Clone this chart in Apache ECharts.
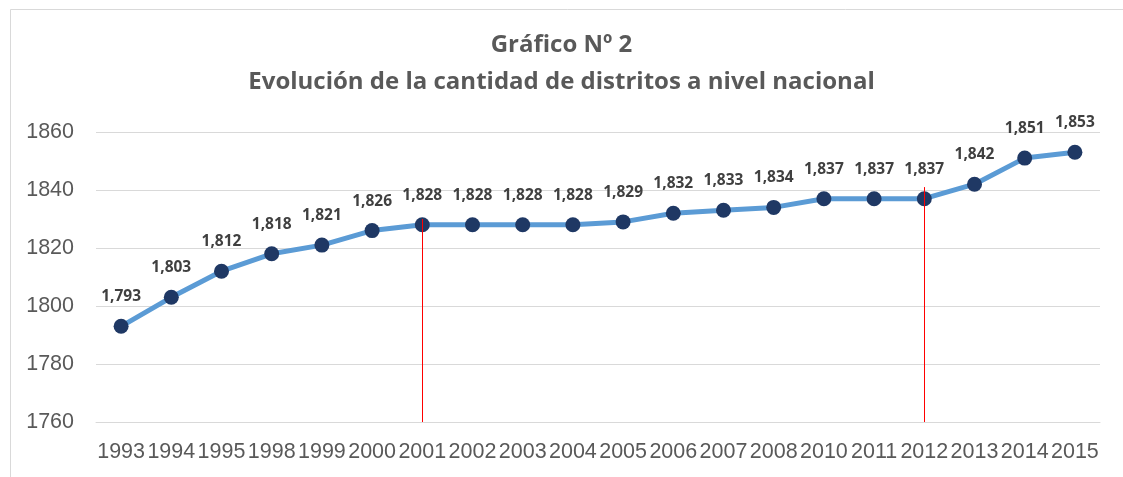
<!DOCTYPE html>
<html><head><meta charset="utf-8">
<script src="https://cdn.jsdelivr.net/npm/echarts@6/dist/echarts.min.js"></script>
<style>html,body{margin:0;padding:0;background:#fff}#c{width:1123px;height:477px}</style>
</head><body><div id="c"></div>
<script>
const titleLines = ['Gráfico Nº 2', 'Evolución de la cantidad de distritos a nivel nacional'];
const years = ['1993','1994','1995','1998','1999','2000','2001','2002','2003','2004','2005','2006','2007','2008','2010','2011','2012','2013','2014','2015'];
const districts = [1793,1803,1812,1818,1821,1826,1828,1828,1828,1828,1829,1832,1833,1834,1837,1837,1837,1842,1851,1853];
const markerYears = ['2001','2012'];
const markerTops = [1830,1841];
const yTicks = {min:1760, max:1860, interval:20};

const chart = echarts.init(document.getElementById('c'));
chart.setOption({
  backgroundColor:'#fff',
  animation:false,
  graphic:[{type:'rect',left:8,top:7,shape:{width:1130,height:480},style:{fill:'none',stroke:'#d9d9d9',lineWidth:1},silent:true}],
  title:{
    text: titleLines.join('\n'),
    left:'center', top:22,
    textStyle:{fontFamily:'Open Sans',fontWeight:'bold',fontSize:24,color:'#595959',lineHeight:37}
  },
  grid:{left:96,right:23,top:132,bottom:55},
  xAxis:{
    type:'category', data:years, boundaryGap:true,
    axisLine:{show:true,lineStyle:{color:'#d9d9d9'}},
    axisTick:{show:false},
    axisLabel:{interval:0,color:'#595959',fontFamily:'Liberation Sans',fontSize:21.5,margin:19}
  },
  yAxis:{
    type:'value', min:yTicks.min, max:yTicks.max, interval:yTicks.interval,
    axisLine:{show:false}, axisTick:{show:false},
    splitLine:{lineStyle:{color:'#d9d9d9',width:1}},
    axisLabel:{color:'#595959',fontFamily:'Liberation Sans',fontSize:21.5,margin:22,formatter:v=>String(v)}
  },
  series:[{
    type:'line', data:districts,
    lineStyle:{color:'#5B9BD5',width:5},
    symbol:'circle', symbolSize:15,
    itemStyle:{color:'#1F3864'},
    label:{show:true,position:'top',distance:14,color:'#404040',fontFamily:'Open Sans',fontWeight:'bold',fontSize:15.5,
      formatter:p=>p.value.toLocaleString('en-US')},
    markLine:{
      silent:true, symbol:'none', label:{show:false},
      lineStyle:{color:'#ff0000',width:1,type:'solid'},
      data: markerYears.map((y,i)=>[{coord:[y,markerTops[i]]},{coord:[y,yTicks.min]}])
    },
    z:3
  }]
});
</script></body></html>
